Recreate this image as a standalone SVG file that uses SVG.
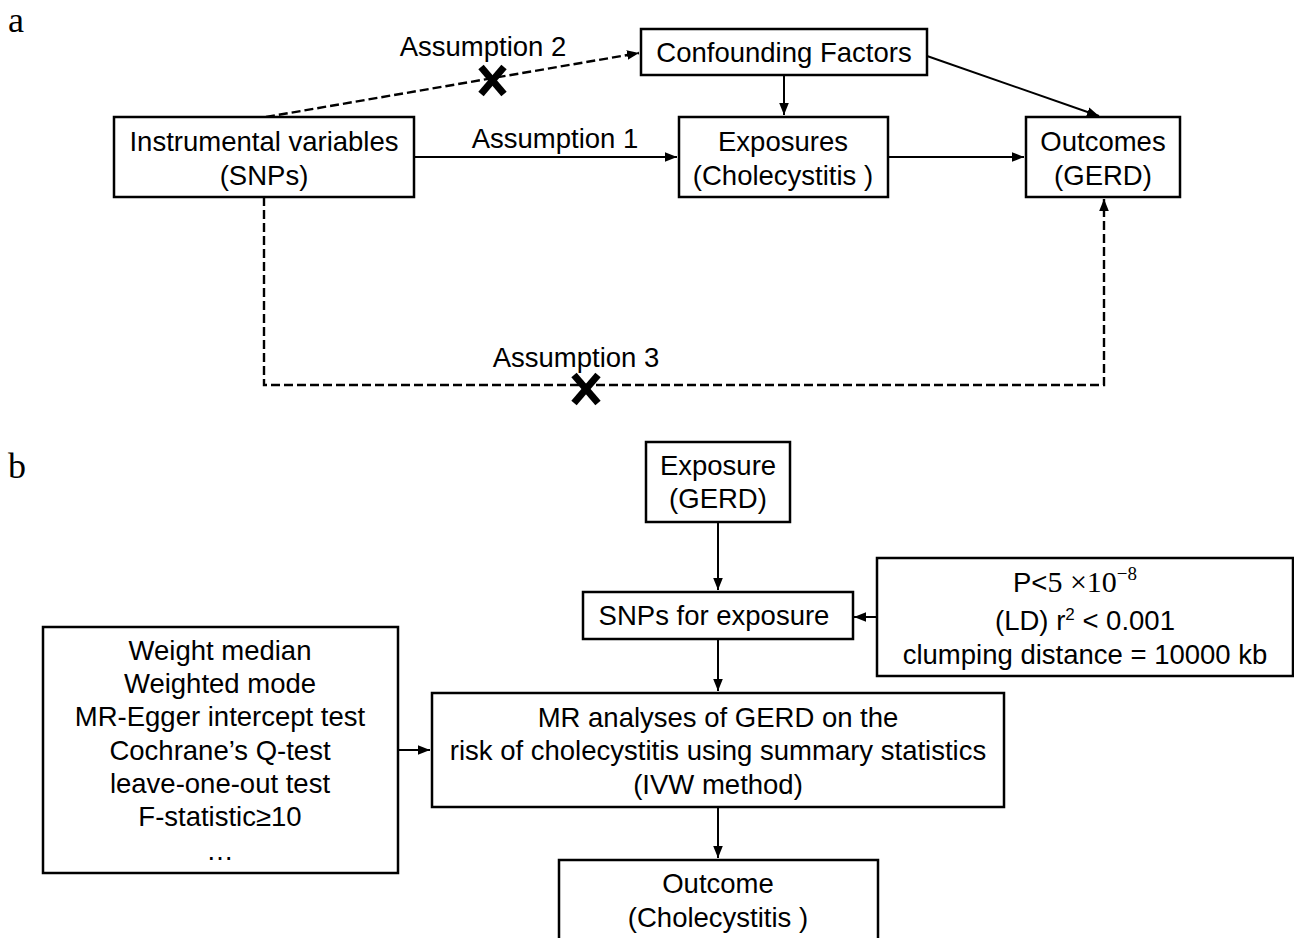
<svg xmlns="http://www.w3.org/2000/svg" width="1294" height="938" viewBox="0 0 1294 938">
<style>
.box{fill:#fff;stroke:#000;stroke-width:2.5}
.t{font-family:"Liberation Sans",Arial,sans-serif;font-size:27.5px;fill:#000;text-anchor:middle}
.lbl{font-family:"Liberation Serif","Times New Roman",serif;font-size:36px;fill:#000}
.ln{fill:none;stroke:#000;stroke-width:2}
.dash{fill:none;stroke:#000;stroke-width:2.4;stroke-dasharray:9,4}
.x{stroke:#000;stroke-width:7;stroke-linecap:butt}
</style>
<defs>
<marker id="ahb" viewBox="0 0 10 10" refX="10" refY="5" markerWidth="12" markerHeight="12" orient="auto" markerUnits="userSpaceOnUse">
<path d="M0,1 L10,5 L0,9 z" fill="#000"/>
</marker>
</defs>
<rect width="1294" height="938" fill="#fff"/>
<text class="lbl" x="8" y="32">a</text>
<text class="lbl" x="8" y="478">b</text>

<g id="connectors">
<line class="dash" x1="266" y1="117" x2="639" y2="53" marker-end="url(#ahb)"/>
<line class="ln" x1="414" y1="157" x2="677" y2="157" marker-end="url(#ahb)"/>
<line class="ln" x1="888" y1="157" x2="1024" y2="157" marker-end="url(#ahb)"/>
<line class="ln" x1="784" y1="75" x2="784" y2="115" marker-end="url(#ahb)"/>
<line class="ln" x1="927" y1="56" x2="1099" y2="116" marker-end="url(#ahb)"/>
<polyline class="dash" points="264,197 264,385 1104,385 1104,199" marker-end="url(#ahb)"/>
<g id="cross2"><line class="x" x1="481" y1="67" x2="504" y2="94"/><line class="x" x1="504" y1="67" x2="481" y2="94"/></g>
<g id="cross3"><line class="x" x1="574" y1="375" x2="598" y2="403"/><line class="x" x1="598" y1="375" x2="574" y2="403"/></g>
<text class="t" x="483" y="56">Assumption 2</text>
<text class="t" x="555" y="148">Assumption 1</text>
<text class="t" x="576" y="367">Assumption 3</text>

<line class="ln" x1="718" y1="522" x2="718" y2="590" marker-end="url(#ahb)"/>
<line class="ln" x1="718" y1="639" x2="718" y2="691" marker-end="url(#ahb)"/>
<line class="ln" x1="718" y1="807" x2="718" y2="858" marker-end="url(#ahb)"/>
<line class="ln" x1="877" y1="617" x2="854" y2="617" marker-end="url(#ahb)"/>
<line class="ln" x1="398" y1="750" x2="430" y2="750" marker-end="url(#ahb)"/>
</g>

<g id="iv">
<rect class="box" x="114" y="117" width="300" height="80"/>
<text class="t" x="264" y="151">Instrumental variables</text>
<text class="t" x="264" y="185">(SNPs)</text>
</g>
<g id="confounding">
<rect class="box" x="641" y="29" width="286" height="46"/>
<text class="t" x="784" y="62">Confounding Factors</text>
</g>
<g id="exposures">
<rect class="box" x="679" y="117" width="209" height="80"/>
<text class="t" x="783" y="151">Exposures</text>
<text class="t" x="783" y="185">(Cholecystitis )</text>
</g>
<g id="outcomes">
<rect class="box" x="1026" y="117" width="154" height="80"/>
<text class="t" x="1103" y="151">Outcomes</text>
<text class="t" x="1103" y="185">(GERD)</text>
</g>

<g id="exposure-b">
<rect class="box" x="646" y="442" width="144" height="80"/>
<text class="t" x="718" y="475">Exposure</text>
<text class="t" x="718" y="508">(GERD)</text>
</g>
<g id="snps">
<rect class="box" x="583" y="592" width="270" height="47"/>
<text class="t" x="714" y="625">SNPs for exposure</text>
</g>
<g id="criteria">
<rect class="box" x="877" y="558" width="416" height="118"/>
<text class="t" x="1075" y="592"><tspan>P&lt;</tspan><tspan font-family="'Liberation Serif','Times New Roman',serif" font-size="30">5 ×10</tspan><tspan font-family="'Liberation Serif','Times New Roman',serif" font-size="19" dy="-12">−8</tspan></text>
<text class="t" x="1085" y="630">(LD) r<tspan font-size="17" dy="-10">2</tspan><tspan dy="10"> &lt; 0.001</tspan></text>
<text class="t" x="1085" y="664">clumping distance = 10000 kb</text>
</g>
<g id="sensitivity">
<rect class="box" x="43" y="627" width="355" height="246"/>
<text class="t" x="220" y="660">Weight median</text>
<text class="t" x="220" y="693">Weighted mode</text>
<text class="t" x="220" y="726">MR-Egger intercept test</text>
<text class="t" x="220" y="760">Cochrane’s Q-test</text>
<text class="t" x="220" y="793">leave-one-out test</text>
<text class="t" x="220" y="826">F-statistic≥10</text>
<text class="t" x="220" y="860">…</text>
</g>
<g id="mr">
<rect class="box" x="432" y="693" width="572" height="114"/>
<text class="t" x="718" y="727">MR analyses of GERD on the</text>
<text class="t" x="718" y="760">risk of cholecystitis using summary statistics</text>
<text class="t" x="718" y="794">(IVW method)</text>
</g>
<g id="outcome-b">
<rect class="box" x="559" y="860" width="319" height="90"/>
<text class="t" x="718" y="893">Outcome</text>
<text class="t" x="718" y="927">(Cholecystitis )</text>
</g>
</svg>
